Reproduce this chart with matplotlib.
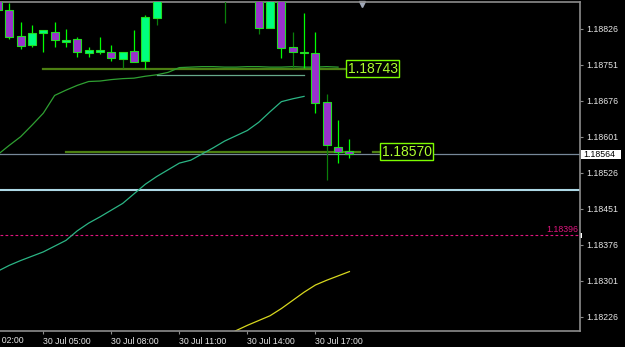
import matplotlib
matplotlib.use('Agg')
import matplotlib.pyplot as plt
from matplotlib.patches import Rectangle
from matplotlib.transforms import blended_transform_factory

# 30 Jul, M30 candles
times = ['03:00', '03:30', '04:00', '04:30', '05:00', '05:30', '06:00', '06:30',
         '07:00', '07:30', '08:00', '08:30', '09:00', '09:30', '10:00', '10:30',
         '11:00', '11:30', '12:00', '12:30', '13:00', '13:30', '14:00', '14:30',
         '15:00', '15:30', '16:00', '16:30', '17:00', '17:30', '18:00', '18:30']
opens = [1.18900, 1.18865, 1.18811, 1.18792, 1.18818, 1.18819, 1.18798, 1.18805,
         1.18776, 1.18777, 1.18778, 1.18763, 1.18780, 1.18759, 1.18848, 1.18920,
         1.18950, 1.18940, 1.18965, 1.18990, 1.18945, 1.18900, 1.18925, 1.18915,
         1.18827, 1.18905, 1.18787, 1.18775, 1.18775, 1.18673, 1.18580, 1.18571]
highs = [1.18910, 1.18879, 1.18839, 1.18834, 1.18823, 1.18839, 1.18825, 1.18809,
         1.18788, 1.18809, 1.18792, 1.18778, 1.18823, 1.18855, 1.18935, 1.18960,
         1.18990, 1.18975, 1.19010, 1.19020, 1.18980, 1.18940, 1.18960, 1.18930,
         1.18915, 1.18912, 1.18819, 1.18859, 1.18820, 1.18691, 1.18636, 1.18596]
lows = [1.18860, 1.18804, 1.18784, 1.18787, 1.18778, 1.18787, 1.18788, 1.18768,
        1.18768, 1.18773, 1.18759, 1.18744, 1.18756, 1.18742, 1.18834, 1.18900,
        1.18925, 1.18910, 1.18945, 1.18930, 1.18837, 1.18892, 1.18895, 1.18816,
        1.18827, 1.18766, 1.18744, 1.18744, 1.18651, 1.18511, 1.18546, 1.18556]
closes = [1.18865, 1.18808, 1.18791, 1.18817, 1.18823, 1.18802, 1.18803, 1.18777,
          1.18782, 1.18782, 1.18766, 1.18778, 1.18757, 1.18850, 1.18920, 1.18950,
          1.18940, 1.18965, 1.18990, 1.18945, 1.18900, 1.18925, 1.18915, 1.18827,
          1.18905, 1.18785, 1.18777, 1.18777, 1.18671, 1.18584, 1.18570, 1.18564]
dark_wick_times = ['08:30', '10:00', '13:00', '14:30', '16:00', '17:30']

# indicator lines
ma_a_times = times[:31]
ma_a = [1.18564, 1.18583, 1.18601, 1.18625, 1.18650, 1.18687, 1.18698, 1.18708,
        1.18716, 1.18717, 1.18720, 1.18722, 1.18723, 1.18727, 1.18730, 1.18735,
        1.18745, 1.18746, 1.18747, 1.18747, 1.18746, 1.18746, 1.18747, 1.18747,
        1.18746, 1.18746, 1.18747, 1.18746, 1.18746, 1.18747, 1.18746]
ma_b_times = times[:28]
ma_b = [1.18321, 1.18333, 1.18343, 1.18352, 1.18361, 1.18373, 1.18385, 1.18405,
        1.18421, 1.18434, 1.18448, 1.18462, 1.18482, 1.18502, 1.18518, 1.18532,
        1.18546, 1.18552, 1.18565, 1.18578, 1.18592, 1.18603, 1.18614, 1.18631,
        1.18653, 1.18674, 1.18680, 1.18685]
ma_c_times = times[20:]
ma_c = [1.18184, 1.18197, 1.18208, 1.18218, 1.18228, 1.18243, 1.18260, 1.18277,
        1.18292, 1.18302, 1.18311, 1.18320]

# levels
bid = 1.18564
blue_level = 1.18491
alert_level = 1.18396
label_levels = [1.18743, 1.18570]
grey_level = 1.18729

yticks = [1.18826, 1.18751, 1.18676, 1.18601, 1.18526, 1.18451, 1.18376, 1.18301, 1.18226]
xtick_times = ['05:00', '08:00', '11:00', '14:00', '17:00']


def hours(labels):
    return [int(t[:2]) + int(t[3:]) / 60 for t in labels]


FONT = 'Liberation Sans'
AXIS_FS = 6.3
GRID_GREY = '#8C8C8C'
TEXT_COL = '#E6E6E6'

fig = plt.figure(figsize=(6.25, 3.47), dpi=100, facecolor='black')
ax = fig.add_axes([0, 16 / 347, 580 / 625, 329.5 / 347])
ax.set_facecolor('black')
ax.set_xlim(3.09, 28.67)
ax.set_ylim(1.181962, 1.188827)

# candles
x = hours(times)
dark = set(dark_wick_times)
for t, xi, o, h, l, c in zip(times, x, opens, highs, lows, closes):
    wick = '#0A7F0A' if t in dark else '#00FF00'
    ax.vlines(xi, l, h, color=wick, lw=0.9, zorder=3)
    bull = c >= o
    ax.bar(xi, abs(c - o), bottom=min(o, c), width=0.35,
           color='#00FF7F' if bull else '#9932CC',
           edgecolor='#22DD22', linewidth=0.8, zorder=4)

# moving averages
ax.plot(hours(ma_a_times), ma_a, color='#2FA032', lw=0.9, zorder=2)
ax.plot(hours(ma_b_times), ma_b, color='#2BB585', lw=0.9, zorder=2)
ax.plot(hours(ma_c_times), ma_c, color='#D8D81E', lw=0.9, zorder=2)

# horizontal levels
ax.axhline(bid, color='#778899', lw=0.9, zorder=1)
ax.axhline(blue_level, color='#ADD8E6', lw=1.5, zorder=1)
ax.axhline(alert_level, color='#E0157F', lw=0.8, dashes=(2.5, 2), zorder=1)
ax.plot(hours(['10:00', '16:30']), [grey_level] * 2, color='#66A88A', lw=0.9, zorder=2)

olive = '#4C7F12'
ax.plot(hours(['05:00', '17:58']), [label_levels[0]] * 2, color=olive, lw=1.6, zorder=1)
ax.plot([18.06, 18.31], [label_levels[0]] * 2, color=olive, lw=1.6, zorder=1)
ax.plot(hours(['06:00', '18:58']), [label_levels[1]] * 2, color=olive, lw=1.6, zorder=1)
ax.plot([19.54, 19.85], [label_levels[1]] * 2, color=olive, lw=1.6, zorder=1)

for lx, lv in zip([18.42, 19.93], label_levels):
    ax.text(lx, lv, f'{lv:.5f}', family=FONT, fontsize=10, color='#ADFF2F',
            ha='left', va='center', zorder=6,
            bbox=dict(boxstyle='square,pad=0.12', fc='black', ec='#7CFC00', lw=1))

blend = blended_transform_factory(ax.transAxes, ax.transData)
ax.text(0.997, alert_level + 0.00003, f'{alert_level:.5f}', transform=blend,
        ha='right', va='bottom', color='#E0157F', family=FONT, fontsize=AXIS_FS)
ax.add_patch(Rectangle((1.0, alert_level - 0.00006), 0.004, 0.0001, transform=blend,
                       fc='white', ec='none', clip_on=False))

# bid price box on the price scale
ax.add_patch(Rectangle((1.002, bid - 0.0001), 0.069, 0.000202, transform=blend,
                       fc='white', ec='none', clip_on=False, zorder=5))
ax.text(1.0065, bid, f'{bid:.5f}', transform=blend, ha='left', va='center',
        color='black', family=FONT, fontsize=AXIS_FS, zorder=6)

# chart shift marker
ax.plot(0.624, 0.992, marker='v', markersize=5, color='#A0A8B8',
        transform=ax.transAxes, clip_on=False)

# axes
for side in ['top', 'right', 'bottom']:
    ax.spines[side].set_color(GRID_GREY)
    ax.spines[side].set_linewidth(1.2)
ax.spines['left'].set_visible(False)

ax.yaxis.tick_right()
ax.set_yticks(yticks)
ax.set_yticklabels([f'{v:.5f}' for v in yticks], family=FONT, fontsize=AXIS_FS)
ax.set_xticks(hours(xtick_times))
ax.set_xticklabels([f'30 Jul {t}' for t in xtick_times], family=FONT,
                   fontsize=AXIS_FS, ha='left')
ax.tick_params(axis='both', colors=GRID_GREY, labelcolor=TEXT_COL,
               length=2, width=0.8, pad=2.2)
ax.text(2.03, -0.016, '30 Jul 02:00', transform=blended_transform_factory(ax.transData, ax.transAxes),
        ha='left', va='top', family=FONT, fontsize=AXIS_FS, color=TEXT_COL, clip_on=False)

fig.savefig('out.png', dpi=100, facecolor='black')
